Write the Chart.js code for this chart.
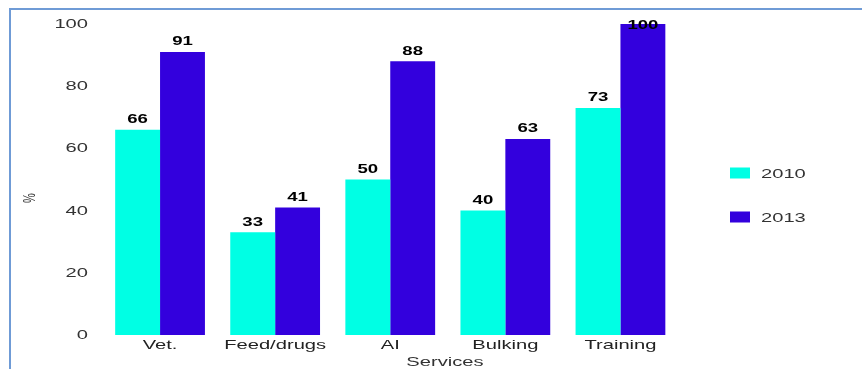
<!DOCTYPE html>
<html>
<head>
<meta charset="utf-8">
<script src="https://cdn.jsdelivr.net/npm/chart.js@4.4.1/dist/chart.umd.min.js"></script>
<style>
  html, body { margin: 0; padding: 0; background: #ffffff; }
  #wrap { position: relative; width: 862px; height: 369px; overflow: hidden; }
  #frame {
    position: absolute; left: 9px; top: 8px; right: -4px; bottom: -4px;
    border-left: 2px solid #6f9bd6; border-top: 2px solid #6f9bd6;
  }
  canvas { position: absolute; left: 0; top: 0; }
</style>
</head>
<body>
<div id="wrap">
  <div id="frame"></div>
  <canvas id="chart" width="862" height="369"></canvas>
</div>
<script>
// Access to services by year (% of households)
const categories = ['Vet.', 'Feed/drugs', 'AI', 'Bulking', 'Training'];
const values2010 = [66, 33, 50, 40, 73];
const values2013 = [91, 41, 88, 63, 100];
const seriesNames = ['2010', '2013'];
const seriesColors = ['#00FFE4', '#3300DD'];
const yTicks = [0, 20, 40, 60, 80, 100];

const FONT = "'Liberation Sans', Arial, sans-serif";
const WIDE = 1.55; // horizontal stretch of all text

// draws text with horizontally widened glyphs
function wideText(ctx, text, x, y, align, baseline, rotate) {
  ctx.save();
  ctx.translate(x, y);
  ctx.scale(WIDE, 1);
  if (rotate) ctx.rotate(rotate);
  ctx.textAlign = align;
  ctx.textBaseline = baseline;
  ctx.fillText(text, 0, 0);
  ctx.restore();
}

// axis tick labels drawn from the chart's own scales
const axisLabels = {
  id: 'axisLabels',
  afterDraw(chart) {
    const ctx = chart.ctx;
    const area = chart.chartArea;
    const xs = chart.scales.x, ys = chart.scales.y;
    ctx.save();
    ctx.font = "13px " + FONT;
    ctx.fillStyle = '#333333';
    ys.ticks.forEach(t => {
      wideText(ctx, String(t.value), area.left - 14.5, ys.getPixelForValue(t.value) + 0.5, 'right', 'middle');
    });
    ctx.fillStyle = '#222222';
    categories.forEach((c, i) => {
      wideText(ctx, c, xs.getPixelForTick(i), area.bottom + 10, 'center', 'middle');
    });
    ctx.fillStyle = '#333333';
    wideText(ctx, 'Services', 445, 362, 'center', 'middle');
    ctx.font = "11px " + FONT;
    wideText(ctx, '%', 30, 198, 'center', 'middle', -Math.PI / 2);
    ctx.restore();
  }
};

// value labels above each bar
const valueLabels = {
  id: 'valueLabels',
  afterDatasetsDraw(chart) {
    const ctx = chart.ctx;
    const top = chart.chartArea.top;
    ctx.save();
    ctx.font = "bold 12px " + FONT;
    ctx.fillStyle = '#000000';
    chart.data.datasets.forEach((ds, di) => {
      chart.getDatasetMeta(di).data.forEach((bar, i) => {
        const y = Math.max(bar.y - 10, top + 2);
        wideText(ctx, String(ds.data[i]), bar.x, y, 'center', 'middle');
      });
    });
    ctx.restore();
  }
};

// legend on the right
const sideLegend = {
  id: 'sideLegend',
  afterDraw(chart) {
    const ctx = chart.ctx;
    const area = chart.chartArea;
    ctx.save();
    ctx.font = "13px " + FONT;
    chart.data.datasets.forEach((ds, i) => {
      const cy = area.top + 149 + i * 44;
      const bx = area.right + 52;
      ctx.fillStyle = ds.backgroundColor;
      ctx.fillRect(bx, cy - 5.5, 20, 11);
      ctx.fillStyle = '#333333';
      wideText(ctx, ds.label, bx + 31, cy + 1, 'left', 'middle');
    });
    ctx.restore();
  }
};

new Chart(document.getElementById('chart'), {
  type: 'bar',
  data: {
    labels: categories,
    datasets: [
      { label: seriesNames[0], data: values2010, backgroundColor: seriesColors[0], borderWidth: 0 },
      { label: seriesNames[1], data: values2013, backgroundColor: seriesColors[1], borderWidth: 0 }
    ]
  },
  options: {
    responsive: false,
    animation: false,
    devicePixelRatio: 1,
    layout: { padding: { left: 18, right: 184, top: 24, bottom: 0 } },
    datasets: { bar: { barPercentage: 1.0, categoryPercentage: 0.78 } },
    plugins: { legend: { display: false }, tooltip: { enabled: false } },
    scales: {
      x: {
        grid: { display: false, drawTicks: false },
        border: { display: false },
        ticks: { display: false },
        afterFit(scale) { scale.height = 34; }
      },
      y: {
        min: 0,
        max: 100,
        afterBuildTicks(scale) { scale.ticks = yTicks.map(v => ({ value: v })); },
        grid: { display: false, drawTicks: false },
        border: { display: false },
        ticks: { display: false },
        afterFit(scale) { scale.width = 84.5; }
      }
    }
  },
  plugins: [valueLabels, axisLabels, sideLegend]
});
</script>
</body>
</html>
